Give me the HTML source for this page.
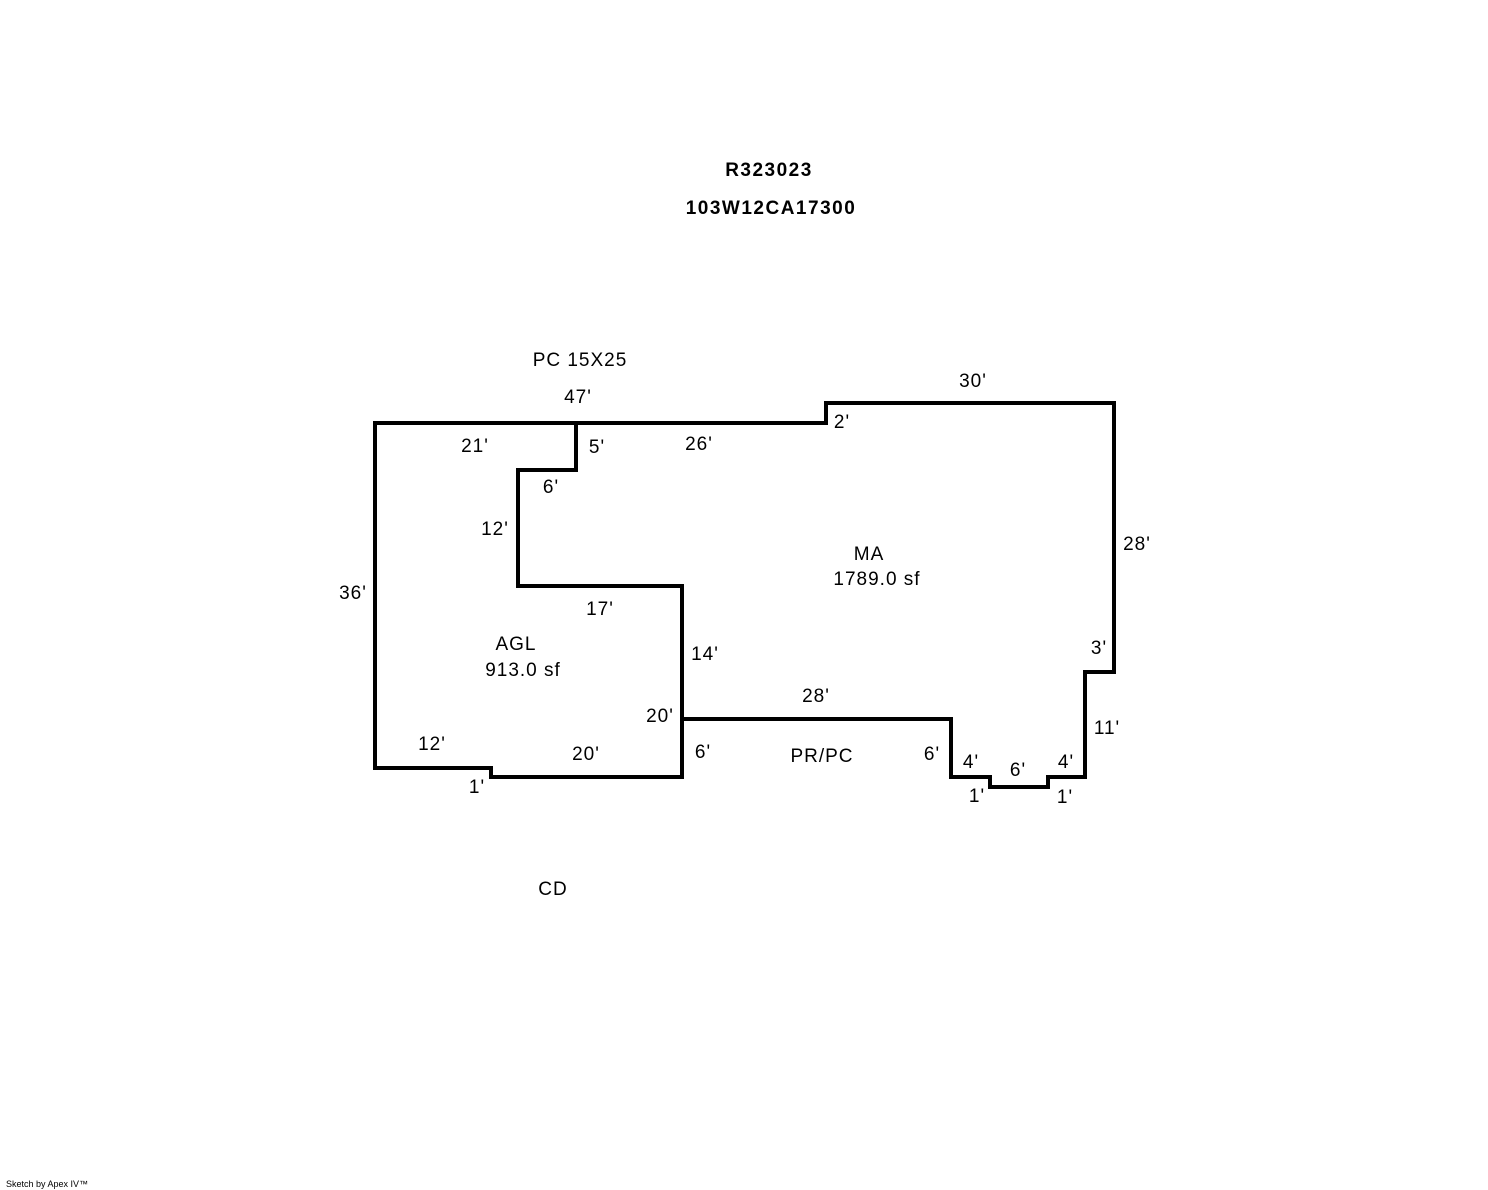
<!DOCTYPE html>
<html><head><meta charset="utf-8"><style>
html,body{margin:0;padding:0;background:#fff;}
svg{display:block;}
text{font-family:"Liberation Sans",Arial,sans-serif;font-size:19px;letter-spacing:1px;fill:#000;}
.b{font-weight:bold;letter-spacing:1.5px;}
</style></head><body>
<svg width="1488" height="1190" viewBox="0 0 1488 1190" xmlns="http://www.w3.org/2000/svg">
<g fill="none" stroke="#000" stroke-width="4" stroke-linejoin="miter" stroke-linecap="square">
<polyline points="682,719 951,719 951,777 990,777 990,787 1048,787 1048,777 1085,777 1085,672 1114,672 1114,403 826,403 826,423 375,423 375,768 491,768 491,777 682,777 682,586 518,586 518,470 576,470 576,423"/>
</g>
<text class="b" x="769" y="176" text-anchor="middle">R323023</text>
<text class="b" x="771" y="214" text-anchor="middle">103W12CA17300</text>
<text x="580" y="366" text-anchor="middle">PC 15X25</text>
<text x="578" y="403" text-anchor="middle">47'</text>
<text x="973" y="387" text-anchor="middle">30'</text>
<text x="842" y="428" text-anchor="middle">2'</text>
<text x="475" y="452" text-anchor="middle">21'</text>
<text x="597" y="453" text-anchor="middle">5'</text>
<text x="699" y="450" text-anchor="middle">26'</text>
<text x="551" y="493" text-anchor="middle">6'</text>
<text x="495" y="535" text-anchor="middle">12'</text>
<text x="1137" y="550" text-anchor="middle">28'</text>
<text x="869" y="560" text-anchor="middle">MA</text>
<text x="877" y="585" text-anchor="middle">1789.0 sf</text>
<text x="353" y="599" text-anchor="middle">36'</text>
<text x="600" y="615" text-anchor="middle">17'</text>
<text x="516" y="650" text-anchor="middle">AGL</text>
<text x="523" y="676" text-anchor="middle">913.0 sf</text>
<text x="705" y="660" text-anchor="middle">14'</text>
<text x="1099" y="654" text-anchor="middle">3'</text>
<text x="816" y="702" text-anchor="middle">28'</text>
<text x="660" y="722" text-anchor="middle">20'</text>
<text x="1107" y="734" text-anchor="middle">11'</text>
<text x="432" y="750" text-anchor="middle">12'</text>
<text x="586" y="760" text-anchor="middle">20'</text>
<text x="703" y="758" text-anchor="middle">6'</text>
<text x="822" y="762" text-anchor="middle">PR/PC</text>
<text x="932" y="760" text-anchor="middle">6'</text>
<text x="971" y="768" text-anchor="middle">4'</text>
<text x="1018" y="776" text-anchor="middle">6'</text>
<text x="1066" y="768" text-anchor="middle">4'</text>
<text x="477" y="793" text-anchor="middle">1'</text>
<text x="977" y="802" text-anchor="middle">1'</text>
<text x="1065" y="803" text-anchor="middle">1'</text>
<text x="553" y="895" text-anchor="middle">CD</text>
<text x="6" y="1187" style="font-size:9px;letter-spacing:0">Sketch by Apex IV™</text>
</svg>
</body></html>
